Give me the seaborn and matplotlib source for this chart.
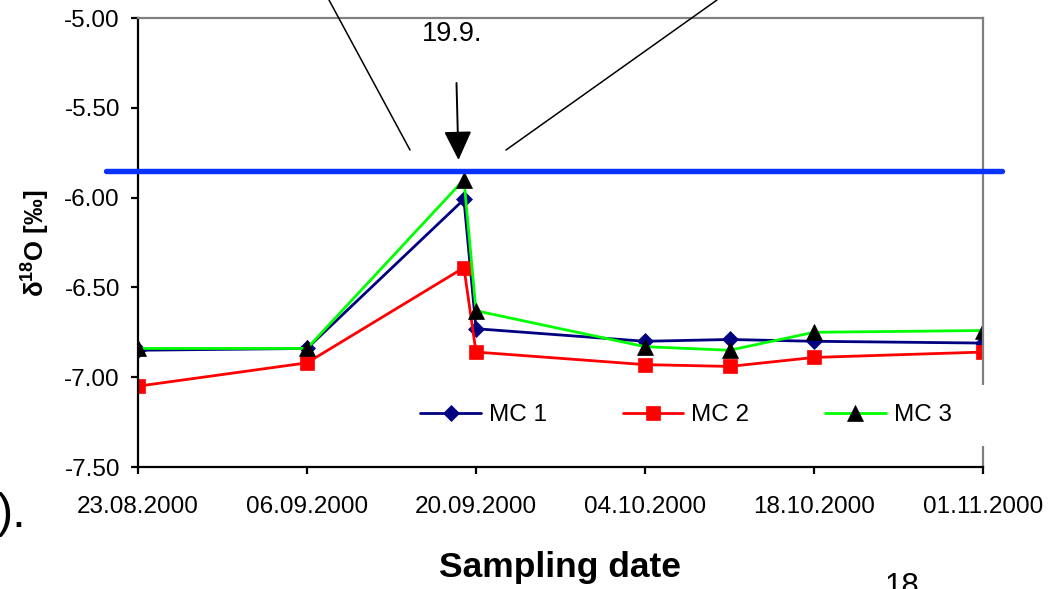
import matplotlib
matplotlib.use("Agg")
import numpy as np
import pandas as pd
import matplotlib.pyplot as plt
import matplotlib.dates as mdates
from matplotlib.ticker import FormatStrFormatter
from matplotlib.lines import Line2D
from matplotlib.patches import Rectangle
import seaborn as sns

# ---------------- data ----------------
sample_dates = ["2000-08-23", "2000-09-06", "2000-09-19", "2000-09-20",
                "2000-10-04", "2000-10-11", "2000-10-18", "2000-11-01"]
mc1 = [-6.85, -6.84, -6.01, -6.73, -6.80, -6.79, -6.80, -6.81]
mc2 = [-7.05, -6.92, -6.39, -6.86, -6.93, -6.94, -6.89, -6.86]
mc3 = [-6.84, -6.84, -5.90, -6.63, -6.83, -6.85, -6.75, -6.74]
series_names = ["MC 1", "MC 2", "MC 3"]
tick_dates = ["2000-08-23", "2000-09-06", "2000-09-20",
              "2000-10-04", "2000-10-18", "2000-11-01"]
y_ticks = [-5.00, -5.50, -6.00, -6.50, -7.00, -7.50]
ref_level = -5.85
event_label = "19.9."
x_label = "Sampling date"
y_label = "δ$^{\\mathbf{18}}$O [‰]"

# ---------------- style ----------------
sns.set_style("white")
plt.rcParams["font.family"] = ["Liberation Sans", "DejaVu Sans"]
plt.rcParams["mathtext.fontset"] = "custom"
plt.rcParams["mathtext.rm"] = "Liberation Sans"
plt.rcParams["mathtext.bf"] = "Liberation Sans:bold"
plt.rcParams["axes.unicode_minus"] = False
for key in ["text.color", "axes.labelcolor", "xtick.color", "ytick.color"]:
    plt.rcParams[key] = "black"

df = pd.DataFrame({
    "date": pd.to_datetime(sample_dates * 3),
    "value": mc1 + mc2 + mc3,
    "series": np.repeat(series_names, len(sample_dates)),
})

styles = {
    "MC 1": dict(color="#000080", marker="D", markersize=8,
                 markerfacecolor="#000080", markeredgecolor="#000080"),
    "MC 2": dict(color="#ff0000", marker="s", markersize=10,
                 markerfacecolor="#ff0000", markeredgecolor="#ff0000"),
    "MC 3": dict(color="#00ff00", marker="^", markersize=11.5,
                 markerfacecolor="black", markeredgecolor="black"),
}

fig = plt.figure(figsize=(10.57, 5.89), dpi=100)
ax = fig.add_axes([138 / 1057, 1 - 467 / 589, 845 / 1057, 449 / 589])

for name in series_names:
    sub = df[df["series"] == name]
    sns.lineplot(data=sub, x="date", y="value", ax=ax, label=name,
                 linewidth=2.0, markeredgewidth=0.5, legend=False,
                 estimator=None, sort=False, **styles[name])

# reference level line (extends beyond plot area)
ax.axhline(ref_level, xmin=-0.038, xmax=1.0225, color="#0a32ff",
           linewidth=3.9, clip_on=False, zorder=4)

# axes
ax.set_xlim(pd.Timestamp(tick_dates[0]), pd.Timestamp(tick_dates[-1]))
ax.set_ylim(y_ticks[-1], y_ticks[0])
ax.set_xticks(pd.to_datetime(tick_dates))
ax.xaxis.set_major_formatter(mdates.DateFormatter("%d.%m.%Y"))
ax.set_yticks(y_ticks)
ax.yaxis.set_major_formatter(FormatStrFormatter("%.2f"))

for side in ["left", "bottom"]:
    ax.spines[side].set_color("black")
    ax.spines[side].set_linewidth(1.6)
for side in ["top", "right"]:
    ax.spines[side].set_color("#808080")
    ax.spines[side].set_linewidth(1.6)

ax.tick_params(axis="both", which="major", direction="out", length=5,
               width=1.6, color="black", labelsize=17.5, labelcolor="black")
ax.tick_params(axis="x", pad=16, bottom=True)
ax.tick_params(axis="y", pad=8, left=True)
ax.grid(False)

ax.set_xlabel(x_label, fontsize=25.5, fontweight="bold")
ax.xaxis.set_label_coords(0.4994, (467 - 577) / 449)
ax.xaxis.label.set_va("baseline")
ax.set_ylabel(y_label, fontsize=18.5, fontweight="bold")
ax.yaxis.set_label_coords((35 - 138) / 845, (467 - 243) / 449)
ax.yaxis.label.set_va("center")

# legend
handles = [l for l in ax.get_lines() if l.get_label() in series_names]
leg = ax.legend(handles=handles, labels=series_names, ncol=3,
                loc="center", bbox_to_anchor=((686 - 138) / 845, (467 - 415) / 449),
                frameon=True, fontsize=17.5, handlelength=2.5,
                handletextpad=0.33, columnspacing=3.1, borderpad=0.6,
                fancybox=False)
leg.get_frame().set_facecolor("white")
leg.get_frame().set_edgecolor("none")

# white gap in right spine behind legend
ax.add_patch(Rectangle((0.99, (467 - 446) / 449), 0.03, 61 / 449,
                       transform=ax.transAxes, facecolor="white",
                       edgecolor="none", clip_on=False, zorder=6))

# annotation arrow and label
fig.text(452 / 1057, 1 - 34 / 589, event_label, fontsize=19.5,
         ha="center", va="center")
ax.annotate("", xy=(458.5 / 1057, 1 - 160 / 589), xycoords="figure fraction",
            xytext=(456.5 / 1057, 1 - 83 / 589), textcoords="figure fraction",
            arrowprops=dict(arrowstyle="-|>,head_length=0.9,head_width=0.43",
                            mutation_scale=20, color="black", lw=1.4,
                            shrinkA=0, shrinkB=0),
            annotation_clip=False)

# callout lines coming from outside the figure
fig.add_artist(Line2D([329 / 1057, 410 / 1057], [1.0, 1 - 150 / 589],
                      color="black", linewidth=1.1))
fig.add_artist(Line2D([506 / 1057, 717 / 1057], [1 - 150 / 589, 1.0],
                      color="black", linewidth=1.1))

# fragments of surrounding page text
fig.text(-3 / 1057, 1 - 527 / 589, ").", fontsize=35, ha="left", va="baseline")
fig.text(885 / 1057, 1 - 595 / 589, "18", fontsize=22.5, ha="left", va="baseline")

fig.savefig("out.png", dpi=100)
